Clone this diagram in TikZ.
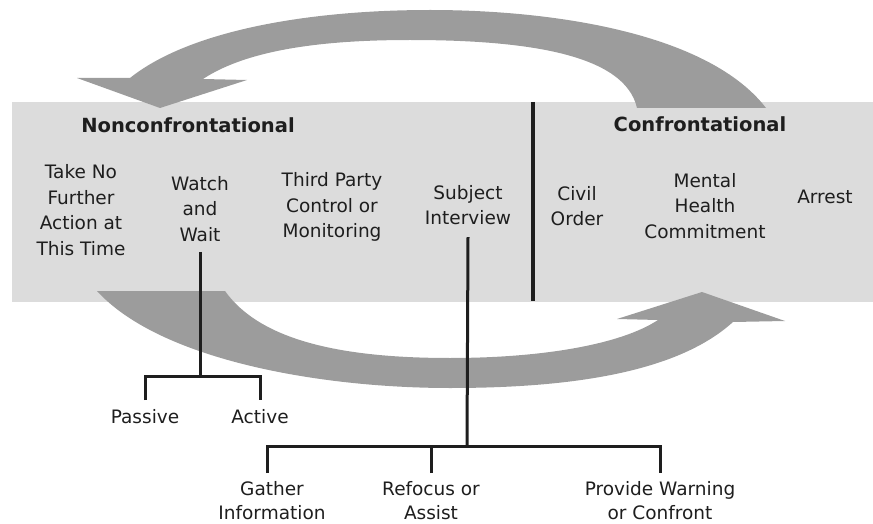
\documentclass[tikz,border=0pt]{standalone}
\usepackage{fontspec}
\setmainfont{DejaVu Sans}
\definecolor{bandgray}{HTML}{DCDCDC}
\definecolor{arrowgray}{HTML}{9C9C9C}
\definecolor{txt}{HTML}{1E1E1E}
\begin{document}
\begin{tikzpicture}[x=1pt,y=-1pt,
  band/.style={fill=bandgray,draw=none},
  bigarrow/.style={fill=arrowgray,draw=none},
  lbl/.style={align=center,font=\fontsize{18.5}{25.5}\selectfont,text=txt,inner sep=0pt},
  leaf/.style={lbl,anchor=north,font=\fontsize{18.5}{24}\selectfont},
  headlbl/.style={font=\bfseries\fontsize{19.5}{24}\selectfont,text=txt,inner sep=0pt},
  tree/.style={draw=txt,line width=3pt},
  divider/.style={draw=txt,line width=4pt}]
\useasboundingbox (0,0) rectangle (873,524);
% band
\fill[band] (12,102) rectangle (873,302);
% top arrow
\fill[bigarrow] (766,108) .. controls (710,35) and (560,10) .. (430,10)
  .. controls (310,10) and (190,30) .. (130,78) -- (77,78) -- (160,108) -- (247,80) -- (203,79)
  .. controls (250,48) and (330,40) .. (410,40)
  .. controls (530,40) and (625,55) .. (637,108) -- cycle;
% bottom arrow
\fill[bigarrow] (97,291) .. controls (160,360) and (320,388) .. (450,388)
  .. controls (580,388) and (680,370) .. (733,322) -- (785,321) -- (702,292) -- (617,319) -- (658,320)
  .. controls (620,345) and (540,358) .. (450,358)
  .. controls (340,358) and (260,340) .. (225,291) -- cycle;
% divider
\coordinate (dtop) at (533,102);
\coordinate (dbot) at (533,301);
\draw[divider] (dtop) -- (dbot);
% headings
\node[headlbl] (nonconf) at (188,125) {Nonconfrontational};
\node[headlbl] (conf) at (700,124) {Confrontational};
% options
\node[lbl] (take) at (81,210) {Take No\\Further\\Action at\\This Time};
\node[lbl] (watch) at (200,209) {Watch\\and\\Wait};
\node[lbl] (third) at (332,207) {Third Party\\Control or\\Monitoring};
\node[lbl] (subject) at (468,205) {Subject\\Interview};
\node[lbl] (civil) at (577,206) {Civil\\Order};
\node[lbl] (mental) at (705,206) {Mental\\Health\\Commitment};
\node[lbl] (arrest) at (825,197) {Arrest};
% watch tree
\coordinate (wb) at (200,376);
\node[leaf] (passive) at (145,409) {Passive};
\node[leaf] (active) at (260,409) {Active};
\draw[tree] ([yshift=-10pt]watch.south) -- (wb);
\draw[tree] ([yshift=9pt]passive.north) |- (wb) -| ([yshift=9pt]active.north);
% subject tree
\coordinate (sb) at (467,446);
\node[leaf] (gather) at (272,481) {Gather\\Information};
\node[leaf] (refocus) at (431,481) {Refocus or\\Assist};
\node[leaf] (provide) at (660,481) {Provide Warning\\or Confront};
\draw[tree] ([yshift=-12pt]subject.south) -- (sb);
\draw[tree] ([xshift=-5pt,yshift=8pt]gather.north) |- (sb) -| ([yshift=8pt]provide.north);
\draw[tree] ([yshift=8pt]refocus.north) -- (refocus.north |- sb);
\end{tikzpicture}
\end{document}
